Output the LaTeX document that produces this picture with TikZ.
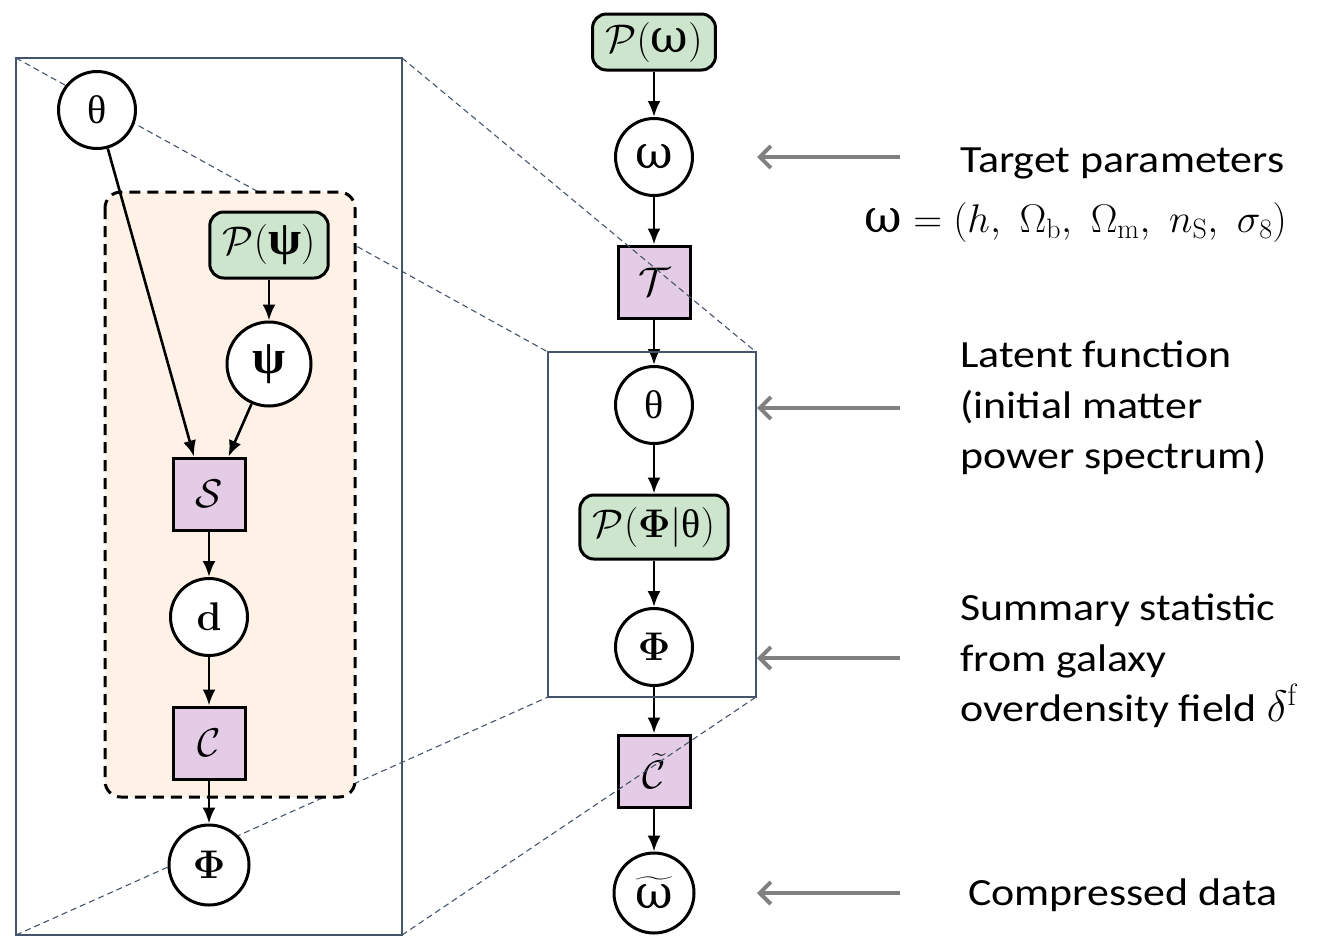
\RequirePackage{fix-cm}
\documentclass[tikz,border=0pt]{standalone}
\usepackage{amsmath,bm}
\usepackage[no-math]{fontspec}
\newfontfamily\lblfont[FakeStretch=1.14]{Carlito}
\newfontfamily\grkfont{Liberation Serif}
\newfontfamily\grkpsi[Scale=1.2]{Liberation Serif}
\newfontfamily\grkbig[Scale=1.15]{DejaVu Serif}
\usetikzlibrary{arrows.meta,calc}
\definecolor{priorgreen}{RGB}{205,229,204}
\definecolor{facpurple}{RGB}{228,204,230}
\definecolor{platebg}{RGB}{254,242,230}
\definecolor{slate}{RGB}{68,84,106}
\definecolor{pointgray}{RGB}{128,128,128}
\newcommand{\Gw}{\mbox{\grkbig ω}}
\newcommand{\Gth}{\mbox{\grkfont θ}}
\newcommand{\Gps}{\mbox{\grkpsi\bfseries ψ}}
\tikzset{
  var/.style={circle,draw,line width=3pt,fill=white,minimum size=77pt,inner sep=0pt,font=\fontsize{40}{44}\selectfont},
  fac/.style={rectangle,draw,line width=3pt,fill=facpurple,minimum size=72pt,inner sep=0pt,font=\fontsize{40}{44}\selectfont},
  prior/.style={rectangle,rounded corners=14pt,draw,line width=3pt,fill=priorgreen,minimum height=60pt,inner xsep=13pt,font=\fontsize{40}{44}\selectfont},
  edge/.style={-{Latex[length=16pt,width=13pt]},line width=2.6pt},
  pointer/.style={-{Straight Barb[length=11pt,width=22pt,line width=4pt]},line width=4.5pt,draw=pointgray},
  zoomline/.style={draw=slate,line width=1.1pt,dash pattern=on 6pt off 4pt},
  panel/.style={draw=slate,line width=2.2pt},
  lbl/.style={font=\lblfont\fontsize{38.5}{46}\selectfont,inner sep=0pt,anchor=base west},
  plate/.style={draw=black,fill=platebg,line width=3pt,rounded corners=16pt,dash pattern=on 11pt off 7pt}
}
\begin{document}
\begin{tikzpicture}[x=1pt,y=-1pt]
\useasboundingbox (0,0) rectangle (1329,938);
% middle column
\node[prior,minimum height=56pt] (pw) at (654,42) {$\mathcal{P}(\Gw)$};
\node[var] (w) at (654,157) {$\Gw$};
\node[fac] (T) at (654,282) {$\mathcal{T}$};
\node[var] (th) at (654,405) {$\Gth$};
\node[prior,minimum height=64pt] (pPhi) at (654,527) {$\mathcal{P}(\bm{\Phi}|\Gth)$};
\node[var] (Phi) at (654,647) {$\bm{\Phi}$};
\node[fac] (Ct) at (654,771) {$\widetilde{\mathcal{C}}$};
\node[var,minimum size=80pt] (wt) at (654,893) {$\widetilde{\Gw}$};
\draw[edge] (pw) -- (w);
\draw[edge] (w) -- (T);
\draw[edge] (T) -- (th);
\draw[edge] (th) -- (pPhi);
\draw[edge] (pPhi) -- (Phi);
\draw[edge] (Phi) -- (Ct);
\draw[edge] (Ct) -- (wt);
% panels and zoom lines
\coordinate (LTL) at (16,58);
\coordinate (LTR) at (402,58);
\coordinate (LBL) at (16,935);
\coordinate (LBR) at (402,935);
\coordinate (MTL) at (548,352);
\coordinate (MTR) at (756,352);
\coordinate (MBL) at (548,697);
\coordinate (MBR) at (756,697);
\draw[zoomline] (LTL) -- (MTL);
\draw[zoomline] (LTR) -- (MTR);
\draw[zoomline] (LBL) -- (MBL);
\draw[zoomline] (LBR) -- (MBR);
\draw[panel] (LTL) rectangle (LBR);
\draw[panel] (MTL) rectangle (MBR);
% left panel
\node[var] (lth) at (97,110) {$\Gth$};
\path[plate] (105,192) rectangle (355,797);
\node[prior,minimum height=66pt] (pps) at (269,245) {$\mathcal{P}(\Gps)$};
\node[var,minimum size=84pt] (ps) at (269,364) {$\Gps$};
\node[fac] (S) at (209,494) {$\mathcal{S}$};
\node[var] (d) at (209,617) {$\mathbf{d}$};
\node[fac] (C) at (209,743) {$\mathcal{C}$};
\node[var,minimum size=80pt] (lPhi) at (209,865) {$\bm{\Phi}$};
\draw[edge] (lth) -- ($(S.north west)!0.3!(S.north east)$);
\draw[edge] (ps) -- ($(S.north west)!0.76!(S.north east)$);
\draw[edge] (pps) -- (ps);
\draw[edge] (S) -- (d);
\draw[edge] (d) -- (C);
\draw[edge] (C) -- (lPhi);
% pointers
\coordinate (p1s) at (900,157); \coordinate (p1e) at (757,157);
\coordinate (p2s) at (900,408); \coordinate (p2e) at (757,408);
\coordinate (p3s) at (900,658); \coordinate (p3e) at (757,658);
\coordinate (p4s) at (900,893); \coordinate (p4e) at (757,893);
\draw[pointer] (p1s) -- (p1e);
\draw[pointer] (p2s) -- (p2e);
\draw[pointer] (p3s) -- (p3e);
\draw[pointer] (p4s) -- (p4e);
% labels
\node[lbl] (tp) at (960,172) {Target parameters};
\node[font=\fontsize{40}{44}\selectfont,inner sep=0pt,anchor=base east] (eq) at (1287,232)
  {$\Gw = (h,\ \Omega_{\mathrm{b}},\ \Omega_{\mathrm{m}},\ n_{\mathrm{S}},\ \sigma_8)$};
\node[lbl] (lf1) at (960,367) {Latent function};
\node[lbl] (lf2) at (960,418) {(initial matter};
\node[lbl] (lf3) at (960,468) {power spectrum)};
\node[lbl] (ss1) at (960,620) {Summary statistic};
\node[lbl] (ss2) at (960,671) {from galaxy};
\node[lbl] (ss3) at (960,721) {overdensity field {\fontsize{44}{46}\selectfont$\delta^{\mathrm{f}}$}};
\node[lbl] (cd) at (968,905) {Compressed data};
\end{tikzpicture}
\end{document}
